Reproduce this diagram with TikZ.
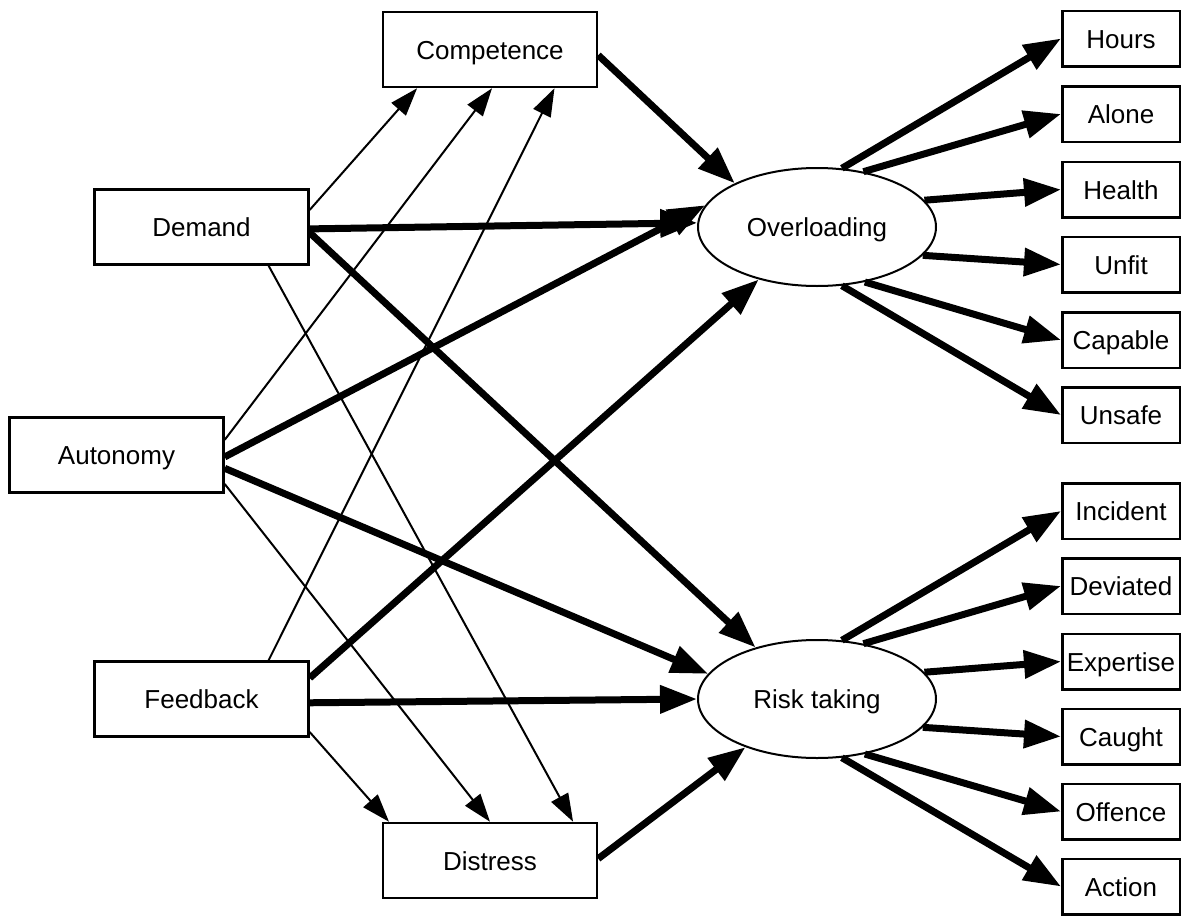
\documentclass[tikz,border=0pt]{standalone}
\usepackage{fontspec}
\setmainfont{Liberation Sans}
\usetikzlibrary{arrows.meta,shapes.geometric}
\begin{document}
\begin{tikzpicture}[x=1pt,y=-1pt,
  lbl/.style={font=\fontsize{26}{30}\selectfont,text height=19pt,text depth=0pt},
  bigbox/.style={lbl,draw,line width=2.5pt,rectangle,inner sep=0pt,fill=white,minimum width=214pt,minimum height=75pt},
  smallbox/.style={lbl,draw,line width=2.5pt,rectangle,inner sep=0pt,fill=white,minimum width=117.5pt,minimum height=55.5pt},
  latent/.style={lbl,draw,line width=2pt,ellipse,inner sep=0pt,fill=white,minimum width=238pt,minimum height=118pt},
  thinarr/.style={line width=2pt,-{Triangle[length=28pt,width=19pt]}},
  thickarr/.style={line width=7pt,-{Triangle[length=37pt,width=27pt]}}]
\useasboundingbox (0,0) rectangle (1184,918);
\fill[white] (0,0) rectangle (1184,918);
% left nodes
\node[bigbox] (comp) at (490,49.5) {Competence};
\node[bigbox] (dem) at (201.5,227) {Demand};
\node[bigbox] (aut) at (116.5,455) {Autonomy};
\node[bigbox] (fb) at (201.5,699) {Feedback};
\node[bigbox] (dis) at (490,860.5) {Distress};
% latent
\node[latent] (ov) at (817,227) {Overloading};
\node[latent] (rk) at (817,699) {Risk taking};
% right nodes
\node[smallbox] (hours) at (1121,38.5) {Hours};
\node[smallbox] (alone) at (1121,114) {Alone};
\node[smallbox] (health) at (1121,189.5) {Health};
\node[smallbox] (unfit) at (1121,264.5) {Unfit};
\node[smallbox] (capable) at (1121,340) {Capable};
\node[smallbox] (unsafe) at (1121,415) {Unsafe};
\node[smallbox] (incident) at (1121,511) {Incident};
\node[smallbox] (deviated) at (1121,586) {Deviated};
\node[smallbox] (expertise) at (1121,661.5) {Expertise};
\node[smallbox] (caught) at (1121,736.5) {Caught};
\node[smallbox] (offence) at (1121,811.5) {Offence};
\node[smallbox] (action) at (1121,886.5) {Action};
% thin arrows to Competence
\draw[thinarr] (dem.9) -- (comp.208);
\draw[thinarr] (aut.8) -- (comp.273);
\draw[thinarr] (fb.30) -- (comp.329);
% thin arrows to Distress
\draw[thinarr] (dem.-30) -- (dis.25);
\draw[thinarr] (aut.-15) -- (dis.90);
\draw[thinarr] (fb.-17) -- (dis.159);
% thick arrows to Overloading
\draw[thickarr] (comp.-3) -- (ov.152);
\draw[thickarr] (dem.-1) -- (ov.178);
\draw[thickarr] (aut.-1) -- (ov.169);
\draw[thickarr] (fb.11) -- (ov.222);
% thick arrows to Risk taking
\draw[thickarr] (dem.-3) -- (rk.140);
\draw[thickarr] (aut.-7) -- (rk.167);
\draw[thickarr] (fb.-2) -- (rk.180);
\draw[thickarr] (dis.1) -- (rk.214);
% indicators of Overloading
\draw[thickarr] (ov.67) -- (hours.west);
\draw[thickarr] (ov.50) -- (alone.west);
\draw[thickarr] (ov.14) -- (health.west);
\draw[thickarr] (ov.-15) -- (unfit.west);
\draw[thickarr] (ov.-49) -- (capable.west);
\draw[thickarr] (ov.-67) -- (unsafe.west);
% indicators of Risk taking
\draw[thickarr] (rk.67) -- (incident.west);
\draw[thickarr] (rk.50) -- (deviated.west);
\draw[thickarr] (rk.14) -- (expertise.west);
\draw[thickarr] (rk.-15) -- (caught.west);
\draw[thickarr] (rk.-49) -- (offence.west);
\draw[thickarr] (rk.-67) -- (action.west);
\end{tikzpicture}
\end{document}
